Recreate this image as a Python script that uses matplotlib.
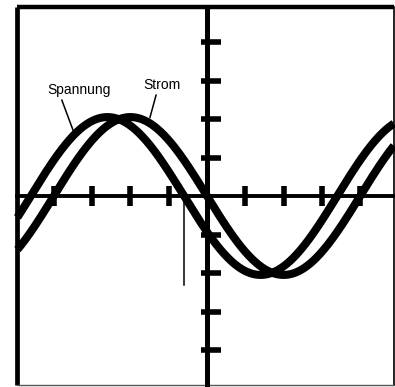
import numpy as np
import matplotlib.pyplot as plt

# Bildschirm in Skalenteilen (Kästchen)
teilung = [-4, -3, -2, -1, 1, 2, 3, 4]
amplitude = 2.05          # Scheitelwert in Kästchen
periode = 8.0             # Periodendauer in Kästchen
phase_spannung = 0.6      # Vorlauf der Spannung in Kästchen
rand_x = (-4.95, 4.88)
rand_y = (-4.91, 4.91)

def strom(x):
    return -amplitude * np.sin(2 * np.pi * x / periode)

def spannung(x):
    return -amplitude * np.sin(2 * np.pi * (x + phase_spannung) / periode)

fig = plt.figure(figsize=(3.95, 3.87), dpi=100)
ax = fig.add_axes([0, 0, 1, 1])
ax.set_xlim(-5.405, 4.909)
ax.set_ylim(-4.961, 5.091)
ax.axis('off')

# Rahmen: oben/links kräftig, rechts/unten dünn
ax.plot([rand_x[0], rand_x[1]], [rand_y[1], rand_y[1]], color='black', lw=3.2, solid_capstyle='butt')
ax.plot([rand_x[0], rand_x[0]], [rand_y[0], rand_y[1]], color='black', lw=3.4, solid_capstyle='butt')
ax.plot([rand_x[1], rand_x[1]], [rand_y[0], rand_y[1]], color='black', lw=1.2)
ax.plot([rand_x[0], rand_x[1]], [rand_y[0], rand_y[0]], color='#555555', lw=1.0)

# Achsen
ax.plot([rand_x[0], rand_x[1]], [0, 0], color='black', lw=2.8)
ax.plot([0, 0], [rand_y[0], rand_y[1]], color='black', lw=3.6)

# Teilstriche
ax.plot(teilung, np.zeros(len(teilung)), ls='none', marker='|', ms=14, mew=4.0, color='black')
ax.plot(np.full(len(teilung), 0.1), teilung, ls='none', marker='_', ms=15, mew=4.0, color='black')

# Kurven
x = np.linspace(rand_x[0], rand_x[1], 600)
ax.plot(x, spannung(x), color='black', lw=5.8, solid_capstyle='butt')
ax.plot(x, strom(x), color='black', lw=5.8, solid_capstyle='butt')

# Nulldurchgang der Spannung markieren
ax.plot([-phase_spannung, -phase_spannung], [0, -2.3], color='black', lw=1.1)

# Beschriftung
ax.text(-4.18, 2.65, 'Spannung', family=['Liberation Sans', 'DejaVu Sans'], fontsize=10, va='baseline')
ax.text(-1.67, 2.78, 'Strom', family=['Liberation Sans', 'DejaVu Sans'], fontsize=10, va='baseline')
ax.plot([-3.79, -3.49], [2.49, spannung(-3.49) + 0.12], color='black', lw=1.1)
ax.plot([-1.33, -1.49], [2.62, strom(-1.49) + 0.15], color='black', lw=1.1)

fig.savefig('out.png', dpi=100, facecolor='white')
